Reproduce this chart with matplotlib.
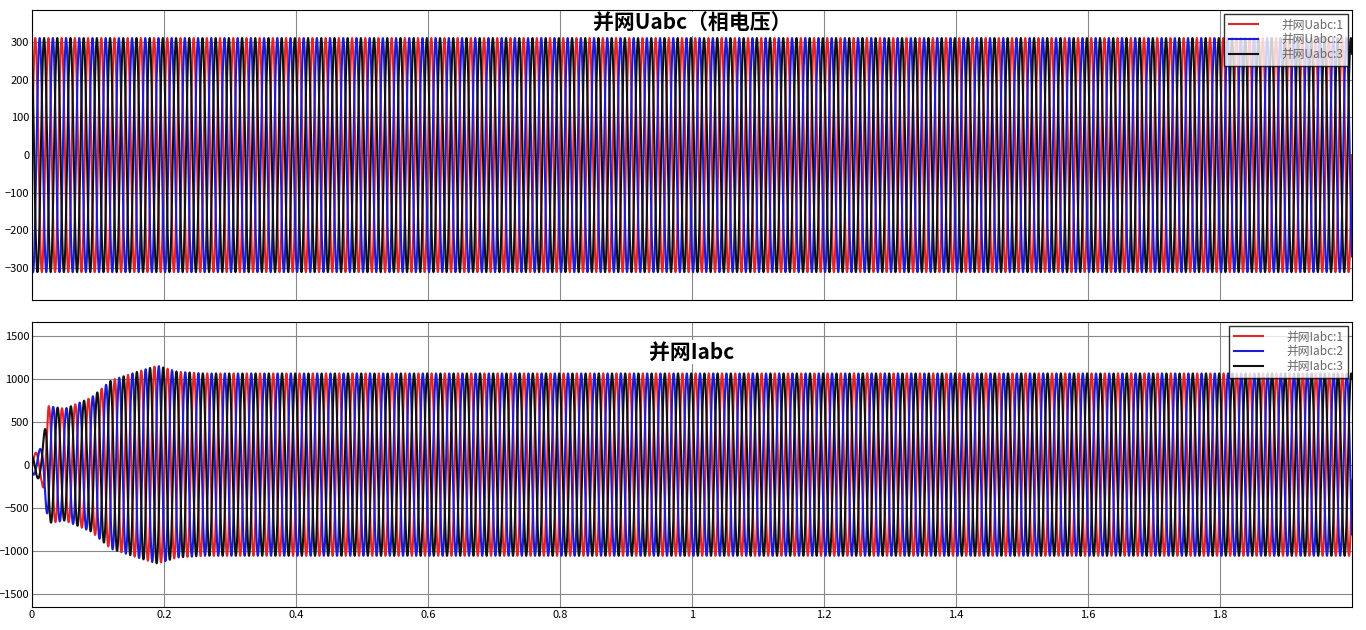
import numpy as np
import matplotlib
matplotlib.use("Agg")
import matplotlib.pyplot as plt

plt.rcParams['font.family'] = ['Noto Sans CJK SC', 'DejaVu Sans']

freq_hz = 50.0
t_end = 2.0
phase_deg = [0, -120, 120]
colors = ['#e3242b', '#1c1cd6', '#111111']
u_amp = 311.0
# current envelope keypoints (time s, amplitude A)
i_env_t = [0.0, 0.015, 0.025, 0.05, 0.09, 0.12, 0.16, 0.19, 0.22, 0.26, 2.0]
i_env_a = [100, 200, 680, 650, 780, 980, 1080, 1150, 1080, 1060, 1060]
i_phase_shift_deg = -10
u_labels = ['并网Uabc:1', '并网Uabc:2', '并网Uabc:3']
i_labels = ['并网Iabc:1', '并网Iabc:2', '并网Iabc:3']
u_ticks = [-300, -200, -100, 0, 100, 200, 300]
i_ticks = [-1500, -1000, -500, 0, 500, 1000, 1500]
x_ticks = [0, 0.2, 0.4, 0.6, 0.8, 1, 1.2, 1.4, 1.6, 1.8]

t = np.linspace(0, t_end, 40001)
env = np.interp(t, i_env_t, i_env_a)

fig = plt.figure(figsize=(13.66, 6.3), dpi=100)
fig.patch.set_facecolor('white')
ax1 = fig.add_axes([0.0234, 0.5238, 0.9663, 0.460])
ax2 = fig.add_axes([0.0234, 0.0365, 0.9663, 0.452])

for k in range(3):
    ph = np.deg2rad(phase_deg[k])
    ax1.plot(t, u_amp*np.sin(2*np.pi*freq_hz*t + ph), color=colors[k], lw=1.5, label=u_labels[k])
    ax2.plot(t, env*np.sin(2*np.pi*freq_hz*t + ph + np.deg2rad(i_phase_shift_deg)),
             color=colors[k], lw=1.5, label=i_labels[k])

for ax, ticks, lim in [(ax1, u_ticks, 385), (ax2, i_ticks, 1655)]:
    ax.set_xlim(0, t_end)
    ax.set_ylim(-lim, lim)
    ax.set_yticks(ticks)
    ax.set_xticks(x_ticks)
    ax.grid(True, color='#888888', lw=0.8)
    ax.tick_params(labelsize=8, direction='in', length=0, pad=2)
    for s in ax.spines.values():
        s.set_color('black')
    leg = ax.legend(loc='upper right', fontsize=8.5, frameon=True, fancybox=False,
                    edgecolor='black', handlelength=2.5, borderaxespad=0.3,
                    labelspacing=0.15, borderpad=0.4, handletextpad=2.0)
    for txt in leg.get_texts():
        txt.set_color('#666666')
ax1.set_xticklabels([])
ax2.set_xticklabels(['0', '0.2', '0.4', '0.6', '0.8', '1', '1.2', '1.4', '1.6', '1.8'])

ax1.text(0.5, 0.99, '并网Uabc（相电压）', transform=ax1.transAxes, ha='center', va='top',
         fontsize=15, fontweight='bold', bbox=dict(facecolor='white', edgecolor='none', pad=1))
ax2.text(0.5, 0.895, '并网Iabc', transform=ax2.transAxes, ha='center', va='center',
         fontsize=15, fontweight='bold', bbox=dict(facecolor='white', edgecolor='none', pad=1))

fig.savefig('out.png', dpi=100)
